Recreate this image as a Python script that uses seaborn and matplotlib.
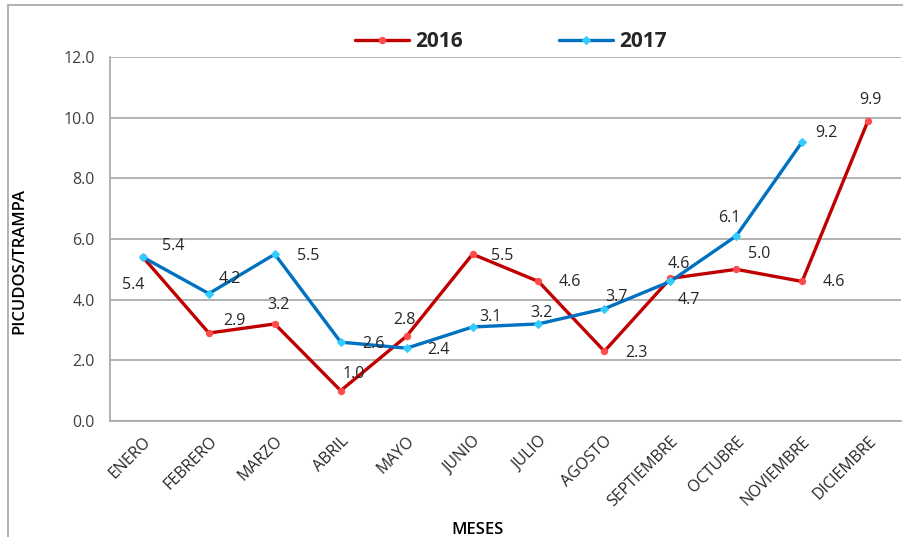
import numpy as np
import pandas as pd
import matplotlib
matplotlib.use("Agg")
import matplotlib.pyplot as plt
from matplotlib.patches import Rectangle
from matplotlib.ticker import FixedLocator
import seaborn as sns

# ============================================================================
# DATA
# ============================================================================

meses = ["ENERO", "FEBRERO", "MARZO", "ABRIL", "MAYO", "JUNIO", "JULIO",
         "AGOSTO", "SEPTIEMBRE", "OCTUBRE", "NOVIEMBRE", "DICIEMBRE"]

val_2016 = [5.4, 2.9, 3.2, 1.0, 2.8, 5.5, 4.6, 2.3, 4.7, 5.0, 4.6, 9.9]
val_2017 = [5.4, 4.2, 5.5, 2.6, 2.4, 3.1, 3.2, 3.7, 4.6, 6.1, 9.2, np.nan]

# label offsets in pixels (dx, dy) relative to each point
off_2016 = [(-10, -28), (26, 12), (4, 19), (13, 17), (-2, 16), (30, -2),
            (31, -1), (32, -2), (19, -22), (23, 15), (32, -1), (2, 21)]
off_2017 = [(30, 11), (21, 15), (33, -2), (33, -2), (32, -2), (18, 10),
            (3, 11), (12, 12), (9, 17), (-7, 18), (24, 9), (0, 0)]

df = pd.DataFrame({
    "mes": list(range(12)) * 2,
    "valor": val_2016 + val_2017,
    "anio": ["2016"] * 12 + ["2017"] * 12,
})

# ============================================================================
# FIGURE
# ============================================================================

sns.set_style("white")
plt.rcParams["font.family"] = ["Open Sans", "DejaVu Sans"]

fig = plt.figure(figsize=(9.04, 5.37), dpi=100)
ax = fig.add_axes([110 / 904, 1 - 421 / 537, 791 / 904, 364 / 537])

fig.patches.append(Rectangle((8 / 904, -0.1), 1.2, 1 - 5 / 537 + 0.1,
                             transform=fig.transFigure, fill=False,
                             edgecolor="#a6a6a6", linewidth=1.2))

colores = {"2016": "#C00000", "2017": "#0070C0"}
rellenos = {"2016": "#ff4d4d", "2017": "#33ccff"}
marcas = {"2016": "o", "2017": "D"}

for anio in ["2016", "2017"]:
    sub = df[df["anio"] == anio]
    sns.lineplot(data=sub, x="mes", y="valor", ax=ax, color=colores[anio],
                 linewidth=2.4, marker=marcas[anio], markersize=4.5,
                 markerfacecolor=rellenos[anio],
                 markeredgecolor=rellenos[anio], markeredgewidth=0.8,
                 label=anio, legend=False, zorder=3)

for serie, offs in [(val_2016, off_2016), (val_2017, off_2017)]:
    for i, v in enumerate(serie):
        if np.isnan(v):
            continue
        ax.annotate(f"{v:.1f}", (i, v), xytext=offs[i],
                    textcoords="offset pixels", ha="center", va="center",
                    fontsize=11.5, color="#262626", zorder=4)

ax.set_xlim(-0.5, 11.5)
ax.set_ylim(0, 12)
ax.set_yticks(np.arange(0, 12.1, 2))
ax.set_yticklabels([f"{t:.1f}" for t in np.arange(0, 12.1, 2)],
                   fontsize=11.5, color="#404040")
ax.grid(axis="y", color="#a6a6a6", linewidth=1.2)
ax.set_axisbelow(True)

ax.set_xticks(range(12))
ax.set_xticklabels(meses, rotation=45, ha="right", rotation_mode="anchor",
                   fontsize=11.5, color="#262626")
ax.xaxis.set_minor_locator(FixedLocator(np.arange(-0.5, 12, 1)))
ax.tick_params(axis="x", which="major", length=0, pad=9)
ax.tick_params(axis="x", which="minor", length=5, color="#a6a6a6", width=1.2)
ax.tick_params(axis="y", length=5, color="#a6a6a6", width=1.2, pad=6)

for s in ["top", "right"]:
    ax.spines[s].set_visible(False)
for s in ["left", "bottom"]:
    ax.spines[s].set_color("#a6a6a6")
    ax.spines[s].set_linewidth(1.2)

ax.set_xlabel("MESES", fontsize=12, fontweight="semibold", color="black")
ax.set_ylabel("PICUDOS/TRAMPA", fontsize=12, fontweight="semibold",
              color="black")
ax.xaxis.set_label_coords(0.465, -0.277)
ax.yaxis.set_label_coords(-0.104, 0.44)

fig.legend(loc="center", bbox_to_anchor=(0.565, 0.922), ncol=2,
           frameon=False, prop={"weight": "bold", "size": 15},
           handlelength=2.6, columnspacing=4.6, handletextpad=0.3)

fig.savefig("out.png", dpi=100)
